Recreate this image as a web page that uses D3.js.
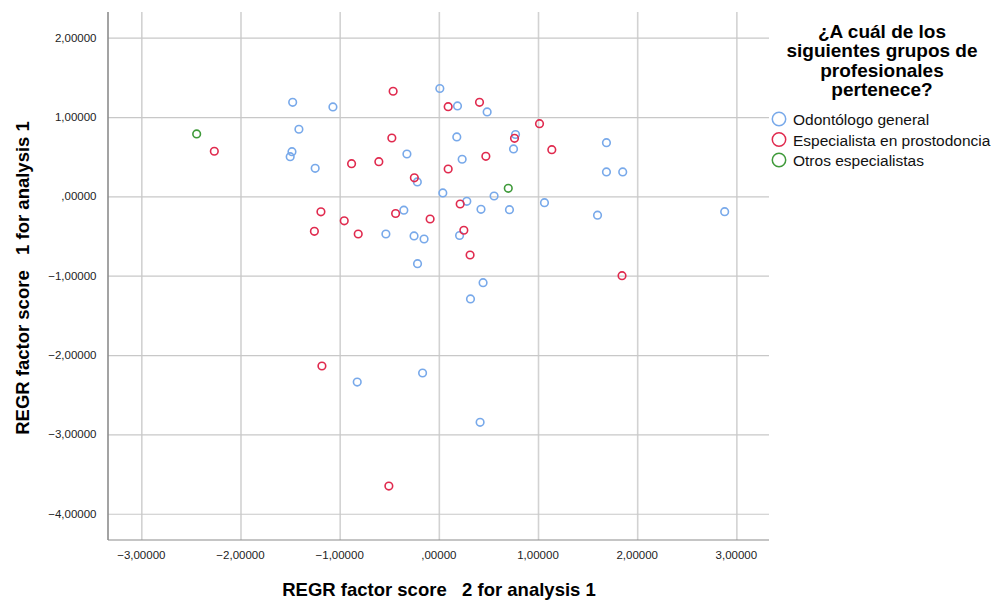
<!DOCTYPE html>
<html>
<head>
<meta charset="utf-8">
<script src="https://cdn.jsdelivr.net/npm/d3@7"></script>
<style>
  body { margin: 0; background: #fff; }
  svg { font-family: "Liberation Sans", Arial, sans-serif; }
</style>
</head>
<body>
<svg id="chart" width="999" height="600"></svg>
<script>
// factor scores: [score 2, score 1]
const odontologo = [
  [-1.474, 1.186], [-1.068, 1.127], [0.010, 1.360], [0.188, 1.140], [0.487, 1.064],
  [-1.411, 0.846], [0.181, 0.749], [0.773, 0.780], [0.753, 0.598], [1.690, 0.677],
  [-1.481, 0.563], [-1.499, 0.500], [-1.247, 0.354], [-0.322, 0.534], [0.235, 0.468],
  [-0.217, 0.182], [1.690, 0.308], [1.854, 0.308], [0.040, 0.043], [0.557, 0.005],
  [0.282, -0.062], [1.065, -0.079], [-0.353, -0.174], [0.425, -0.163], [0.712, -0.168],
  [1.600, -0.237], [2.882, -0.193], [-0.534, -0.474], [-0.250, -0.499], [-0.149, -0.537],
  [0.209, -0.493], [-0.215, -0.848], [0.446, -1.088], [0.319, -1.293], [-0.823, -2.340],
  [-0.164, -2.226], [0.416, -2.848]
];
const prostodoncia = [
  [-2.264, 0.569], [-0.461, 1.325], [0.094, 1.131], [0.410, 1.186], [1.015, 0.916],
  [-0.474, 0.736], [0.763, 0.732], [1.139, 0.589], [-0.880, 0.412], [-0.605, 0.437],
  [-0.247, 0.234], [0.094, 0.345], [0.474, 0.505], [0.215, -0.096], [-1.189, -0.194],
  [-0.954, -0.308], [-1.255, -0.440], [-0.813, -0.474], [-0.436, -0.216], [-0.088, -0.285],
  [0.252, -0.427], [0.315, -0.739], [1.847, -1.000], [-1.179, -2.138], [-0.504, -3.651]
];
const otros = [
  [-2.442, 0.787], [0.700, 0.102]
];

const groupNames = ["Odontólogo general", "Especialista en prostodoncia", "Otros especialistas"];
const groupColors = ["#78a9ea", "#e02a4e", "#3f9a3a"];
const groups = [odontologo, prostodoncia, otros];

const xTicks = [-3, -2, -1, 0, 1, 2, 3];
const yTicks = [2, 1, 0, -1, -2, -3, -4];
const legendTitle = ["¿A cuál de los", "siguientes grupos de", "profesionales", "pertenece?"];

// SPSS style numbers: comma decimal, no leading zero
function spss(v) {
  let s = d3.format(".5f")(v).replace(".", ",");
  return s.replace(/^0,/, ",").replace(/^-0,/, ",");
}

const svg = d3.select("#chart");
const plotL = 108, plotR = 769, plotT = 12, plotB = 540;

const x = d3.scaleLinear().domain([-3.336, 3.329]).range([plotL, plotR]);
const y = d3.scaleLinear().domain([-4.331, 2.324]).range([plotB, plotT]);

// grid
svg.append("g")
  .attr("transform", `translate(0,${plotB})`)
  .call(d3.axisBottom(x).tickValues(xTicks).tickSize(-(plotB - plotT)).tickFormat(""))
  .call(g => g.select(".domain").remove())
  .call(g => g.selectAll("line").attr("stroke", "#d2d2d2").attr("stroke-width", 1.6));

svg.append("g")
  .attr("transform", `translate(${plotL},0)`)
  .call(d3.axisLeft(y).tickValues(yTicks).tickSize(-(plotR - plotL)).tickFormat(""))
  .call(g => g.select(".domain").remove())
  .call(g => g.selectAll("line").attr("stroke", "#c8c8c8").attr("stroke-width", 1.2));

// axis lines
svg.append("line").attr("x1", plotL).attr("x2", plotL).attr("y1", plotT).attr("y2", plotB)
  .attr("stroke", "#8c8c8c").attr("stroke-width", 1.6);
svg.append("line").attr("x1", plotL).attr("x2", plotR).attr("y1", plotB).attr("y2", plotB)
  .attr("stroke", "#8c8c8c").attr("stroke-width", 1.2);

// tick labels
svg.append("g").selectAll("text").data(xTicks).join("text")
  .attr("x", d => x(d)).attr("y", plotB + 19)
  .attr("text-anchor", "middle").attr("font-size", 11.5).attr("fill", "#222")
  .text(spss);

svg.append("g").selectAll("text").data(yTicks).join("text")
  .attr("x", plotL - 11.5).attr("y", d => y(d) + 4)
  .attr("text-anchor", "end").attr("font-size", 11.5).attr("fill", "#222")
  .text(spss);

// axis titles
svg.append("text")
  .attr("x", 439).attr("y", 596)
  .attr("text-anchor", "middle").attr("font-size", 18.5).attr("font-weight", "bold")
  .style("white-space", "pre")
  .text("REGR factor score   2 for analysis 1");

svg.append("text")
  .attr("transform", "translate(29,278) rotate(-90)")
  .attr("text-anchor", "middle").attr("font-size", 18.5).attr("font-weight", "bold")
  .style("white-space", "pre")
  .text("REGR factor score   1 for analysis 1");

// points
groups.forEach((pts, i) => {
  svg.append("g").selectAll("circle").data(pts).join("circle")
    .attr("cx", d => x(d[0])).attr("cy", d => y(d[1]))
    .attr("r", 3.8)
    .attr("fill", "none")
    .attr("stroke", groupColors[i])
    .attr("stroke-width", 1.6);
});

// legend
const lg = svg.append("g");
lg.selectAll("text.title").data(legendTitle).join("text")
  .attr("class", "title")
  .attr("x", 882).attr("y", (d, i) => 37.5 + i * 19.5)
  .attr("text-anchor", "middle").attr("font-size", 19).attr("font-weight", "bold")
  .text(d => d);

const items = lg.selectAll("g.item").data(groupNames).join("g")
  .attr("class", "item")
  .attr("transform", (d, i) => `translate(779,${119 + i * 20.5})`);
items.append("circle").attr("r", 6.7).attr("fill", "none")
  .attr("stroke", (d, i) => groupColors[i]).attr("stroke-width", 1.5);
items.append("text").attr("x", 14).attr("y", 6)
  .attr("font-size", 15.5).attr("fill", "#111")
  .text(d => d);
</script>
</body>
</html>
